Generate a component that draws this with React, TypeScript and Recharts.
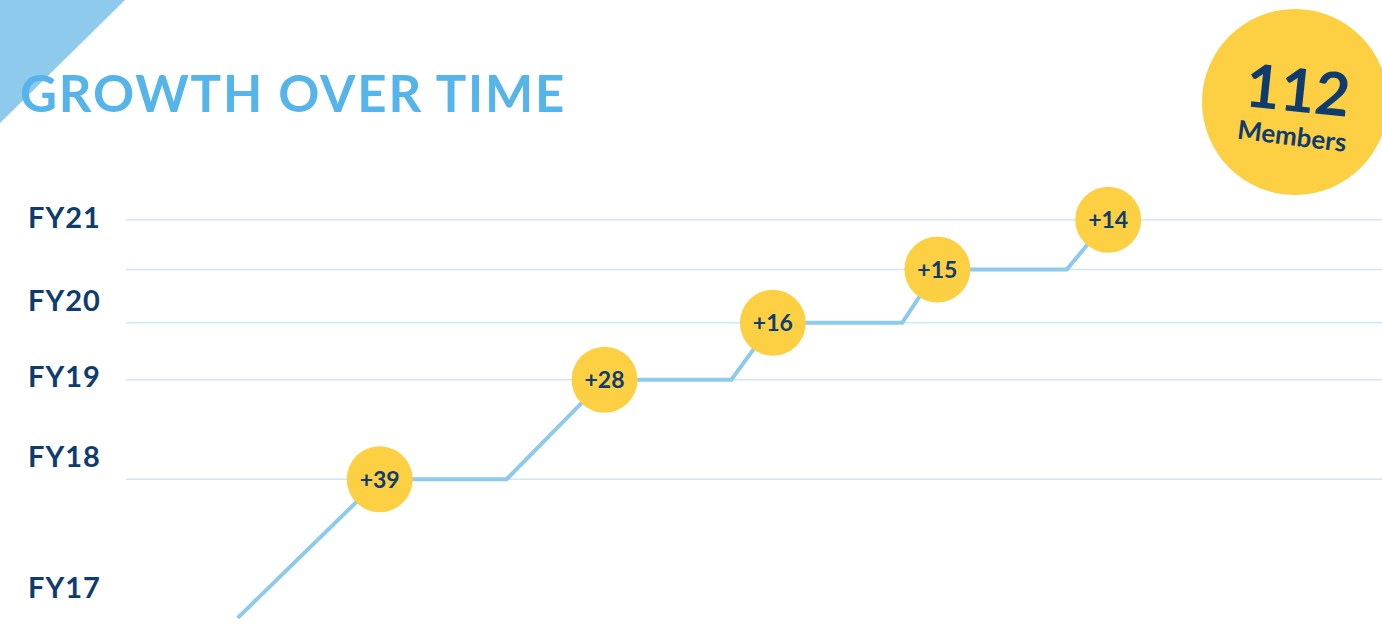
import { LineChart, Line, XAxis, YAxis, ReferenceLine } from "recharts";

// timeline position (arbitrary units, 0..100 across the plot) and cumulative members
const timeline = [8.9, 20.2, 30.3, 38.1, 48.2, 51.5, 61.8, 64.6, 74.9, 78.2];
const members = [0, 39, 39, 67, 67, 83, 83, 98, 98, 112];
const gains = [null, 39, null, 28, null, 16, null, 15, null, 14];

// horizontal guide lines at each cumulative total
const gridLevels = [39, 67, 83, 98, 112];

// fiscal year labels on the left, with the level each sits at
const fyLabels = ["FY17", "FY18", "FY19", "FY20", "FY21"];
const fyLevels = [8.5, 45.3, 67.8, 89.4, 112.6];

const totalMembers = 112;

const NAVY = "#0E3C6E";
const YELLOW = "#FCD042";
const LINE_BLUE = "#8ECAEC";
const GRID_BLUE = "#CDE7F7";
const FONT = "Lato, 'Open Sans', sans-serif";

const chartData = timeline.map((t, i) => ({
  t,
  members: members[i],
  gain: gains[i],
}));

function BubbleDot(props: any) {
  const { cx, cy, payload, index } = props;
  if (payload.gain == null) return <g key={`d-${index}`} />;
  return (
    <g key={`d-${index}`}>
      <circle cx={cx} cy={cy} r={33} fill={YELLOW} />
      <text
        x={cx}
        y={cy}
        dy="0.36em"
        textAnchor="middle"
        fill={NAVY}
        fontFamily={FONT}
        fontWeight={700}
        fontSize={23}
      >
        +{payload.gain}
      </text>
    </g>
  );
}

function FyTick(props: any) {
  const { y, payload } = props;
  const idx = fyLevels.indexOf(payload.value);
  return (
    <text
      x={28}
      y={y}
      dy="0.36em"
      textAnchor="start"
      fill={NAVY}
      fontFamily={FONT}
      fontWeight={700}
      fontSize={29}
      letterSpacing={1}
    >
      {fyLabels[idx]}
    </text>
  );
}

export default function App() {
  return (
    <div
      style={{
        position: "absolute",
        left: 0,
        top: 0,
        width: 1382,
        height: 630,
        overflow: "hidden",
        background: "#ffffff",
      }}
    >
      <svg
        width={1382}
        height={630}
        style={{ position: "absolute", left: 0, top: 0 }}
      >
        <polygon points="0,0 125,0 0,123" fill={LINE_BLUE} />
        <text
          x={20}
          y={112}
          fill="#55B4E9"
          fontFamily={FONT}
          fontWeight={700}
          fontSize={51}
          letterSpacing={1.8}
        >
          GROWTH OVER TIME
        </text>
        <circle cx={1295} cy={102} r={93} fill={YELLOW} />
        <text
          x={1298}
          y={90}
          dy="0.36em"
          textAnchor="middle"
          fill={NAVY}
          fontFamily={FONT}
          fontWeight={700}
          fontSize={60}
          transform="rotate(6 1298 90)"
        >
          {totalMembers}
        </text>
        <text
          x={1292}
          y={136}
          dy="0.36em"
          textAnchor="middle"
          fill={NAVY}
          fontFamily={FONT}
          fontWeight={700}
          fontSize={26}
          transform="rotate(7 1292 136)"
        >
          Members
        </text>
      </svg>
      <div style={{ position: "absolute", left: 0, top: 0 }}>
        <LineChart
          width={1382}
          height={630}
          data={chartData}
          margin={{ top: 0, right: 0, bottom: 0, left: 0 }}
        >
          <XAxis dataKey="t" type="number" domain={[0, 100]} hide />
          <YAxis
            type="number"
            domain={[-3.4, 173.8]}
            allowDataOverflow
            width={126}
            ticks={fyLevels}
            interval={0}
            axisLine={false}
            tickLine={false}
            tick={<FyTick />}
          />
          {gridLevels.map((v) => (
            <ReferenceLine
              key={v}
              y={v}
              stroke={GRID_BLUE}
              strokeWidth={1.5}
            />
          ))}
          <Line
            type="linear"
            dataKey="members"
            stroke={LINE_BLUE}
            strokeWidth={4}
            dot={BubbleDot}
            activeDot={false}
            isAnimationActive={false}
          />
        </LineChart>
      </div>
    </div>
  );
}
